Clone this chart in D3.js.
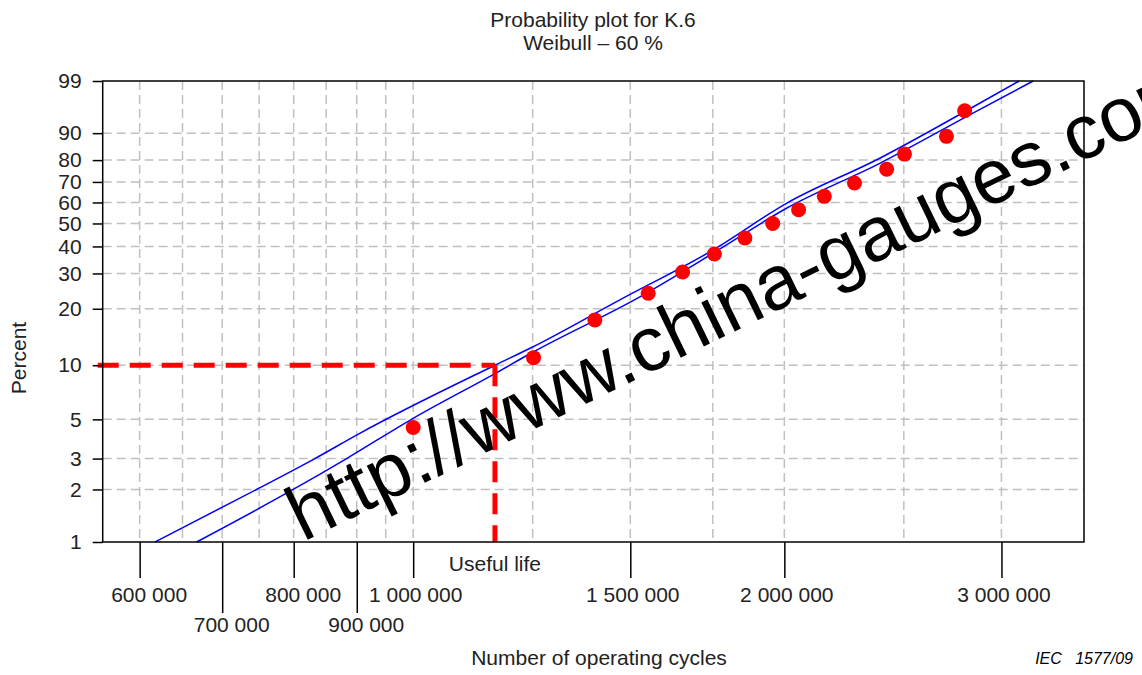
<!DOCTYPE html>
<html>
<head>
<meta charset="utf-8">
<script src="https://cdn.jsdelivr.net/npm/d3@7"></script>
<style>
  body { margin: 0; background: #fff; }
  svg { font-family: Arial, "Liberation Sans", sans-serif; }
</style>
</head>
<body>
<svg id="chart"></svg>
<script>
// tick values / labels
const percentTicks = [1, 2, 3, 5, 10, 20, 30, 40, 50, 60, 70, 80, 90, 99];
const xTicksShort = [600000, 800000, 1000000, 1500000, 2000000, 3000000];
const xTicksLong = [700000, 900000];
const xGridValues = [600000, 650000, 700000, 750000, 800000, 850000, 900000, 950000, 1000000,
                     1250000, 1500000, 1750000, 2000000, 2500000, 3000000];

// observed failures (operating cycles, percent)
const failCycles = [1000000, 1252000, 1404000, 1551000, 1654000, 1755000, 1858000, 1957000,
                    2054000, 2155000, 2280000, 2421000, 2503000, 2707000, 2801000];
const failPercent = [4.5, 11.0, 17.5, 24.0, 30.5, 37.0, 43.5, 50.0, 56.5, 63.0, 69.5, 76.0, 82.5, 89.0, 95.5];

// the two blue lines
const upperCycles = [617400, 746400, 832300, 905000, 1165000, 1251000, 1471000, 1751000, 2008000, 2390000, 2847000, 3101000];
const upperPercent = [1.0, 2.0, 3.0, 4.17, 10.0, 12.6, 22.2, 38.6, 59.6, 80.8, 96.2, 99.0];
const lowerCycles = [667300, 799300, 883100, 1000000, 1165000, 1251000, 1527000, 1751000, 2008000, 2390000, 2847000, 3183000];
const lowerPercent = [1.0, 2.0, 3.0, 5.07, 9.0, 11.8, 23.0, 37.3, 57.2, 78.6, 95.1, 99.0];

// useful life marker (B10)
const usefulLife = 1165000;
const usefulPercent = 10;

const W = 1142, H = 675;
const margin = {top: 81, right: 58, bottom: 133, left: 102.7};
const width = W - margin.left - margin.right;
const height = H - margin.top - margin.bottom;

const svg = d3.select('#chart').attr('width', W).attr('height', H);

// weibull probability transform
const weib = p => Math.log(-Math.log(1 - p / 100));

const x = d3.scaleLog().domain([560000, 3500000]).range([0, width]);
const yLin = d3.scaleLinear().domain([weib(1), weib(99)]).range([height, 0]);
const y = p => yLin(weib(p));

const fmt = d3.formatLocale({decimal: '.', thousands: ' ', grouping: [3], currency: ['', '']}).format(',');

const chart = svg.append('g')
    .attr('transform', `translate(${margin.left},${margin.top})`);

// grid
chart.append('g').selectAll('line')
    .data(xGridValues)
    .join('line')
    .attr('x1', d => x(d)).attr('x2', d => x(d))
    .attr('y1', 0).attr('y2', height)
    .attr('stroke', '#c0c0c0').attr('stroke-width', 1.5).attr('stroke-dasharray', '9,5');

chart.append('g').selectAll('line')
    .data(percentTicks.filter(p => p > 1 && p < 99))
    .join('line')
    .attr('x1', 0).attr('x2', width)
    .attr('y1', d => y(d)).attr('y2', d => y(d))
    .attr('stroke', '#c0c0c0').attr('stroke-width', 1.5).attr('stroke-dasharray', '9,5');

// blue lines
const line = d3.line().x(d => x(d[0])).y(d => y(d[1])).curve(d3.curveMonotoneX);
chart.append('path')
    .datum(d3.zip(upperCycles, upperPercent))
    .attr('d', line).attr('fill', 'none').attr('stroke', '#0000ff').attr('stroke-width', 1.5);
chart.append('path')
    .datum(d3.zip(lowerCycles, lowerPercent))
    .attr('d', line).attr('fill', 'none').attr('stroke', '#0000ff').attr('stroke-width', 1.5);

// useful life dashed lines
chart.append('line')
    .attr('x1', -5).attr('x2', x(usefulLife))
    .attr('y1', y(usefulPercent)).attr('y2', y(usefulPercent))
    .attr('stroke', '#ff0000').attr('stroke-width', 5).attr('stroke-dasharray', '21,11');
chart.append('line')
    .attr('x1', x(usefulLife)).attr('x2', x(usefulLife))
    .attr('y1', y(usefulPercent)).attr('y2', height)
    .attr('stroke', '#ff0000').attr('stroke-width', 5).attr('stroke-dasharray', '21,11');

// points
chart.append('g').selectAll('circle')
    .data(d3.zip(failCycles, failPercent))
    .join('circle')
    .attr('cx', d => x(d[0]))
    .attr('cy', d => y(d[1]))
    .attr('r', 7.5)
    .attr('fill', '#ff0000');

// frame
chart.append('rect')
    .attr('width', width).attr('height', height)
    .attr('fill', 'none').attr('stroke', '#000').attr('stroke-width', 1.5);

// y axis
const yAxisG = chart.append('g')
    .call(d3.axisLeft(yLin)
      .tickValues(percentTicks.map(weib))
      .tickFormat((d, i) => percentTicks[i])
      .tickSize(10)
      .tickPadding(11));
yAxisG.select('.domain').remove();
yAxisG.selectAll('line').attr('stroke-width', 1.5);
yAxisG.selectAll('text').attr('font-size', 21).attr('fill', '#222').attr('font-family', null);

// x axis, two tick lengths
const xShort = chart.append('g')
    .attr('transform', `translate(0,${height})`)
    .call(d3.axisBottom(x).tickValues(xTicksShort).tickFormat(fmt).tickSize(36));
const xLong = chart.append('g')
    .attr('transform', `translate(0,${height})`)
    .call(d3.axisBottom(x).tickValues(xTicksLong).tickFormat(fmt).tickSize(71));
[xShort, xLong].forEach(g => {
  g.select('.domain').remove();
  g.selectAll('line').attr('stroke-width', 1.5);
  g.selectAll('text')
    .attr('font-size', 21).attr('fill', '#222').attr('font-family', null)
    .attr('dy', null)
    .attr('dx', d => d < 1000000 ? 9 : 2);
});
xShort.selectAll('text').attr('y', 60);
xLong.selectAll('text').attr('y', 90);

// labels
svg.append('text')
    .attr('x', margin.left + x(usefulLife))
    .attr('y', 571)
    .attr('text-anchor', 'middle')
    .attr('font-size', 21).attr('fill', '#222')
    .text('Useful life');

svg.append('text')
    .attr('x', 593).attr('y', 27)
    .attr('text-anchor', 'middle')
    .attr('font-size', 21).attr('fill', '#222')
    .text('Probability plot for K.6');
svg.append('text')
    .attr('x', 593).attr('y', 49.5)
    .attr('text-anchor', 'middle')
    .attr('font-size', 21).attr('fill', '#222')
    .text('Weibull – 60 %');

svg.append('text')
    .attr('transform', 'translate(26,358) rotate(-90)')
    .attr('text-anchor', 'middle')
    .attr('font-size', 21).attr('fill', '#222')
    .text('Percent');

svg.append('text')
    .attr('x', 599).attr('y', 665)
    .attr('text-anchor', 'middle')
    .attr('font-size', 21).attr('fill', '#222')
    .text('Number of operating cycles');

svg.append('text')
    .attr('x', 1133).attr('y', 664)
    .attr('text-anchor', 'end')
    .attr('font-size', 16).attr('font-style', 'italic')
    .style('white-space', 'pre')
    .text('IEC   1577/09');

// watermark across the plot
svg.append('text')
    .attr('transform', 'translate(303,542) rotate(-26)')
    .attr('font-size', 77).attr('fill', '#000')
    .text('http://www.china-gauges.com');
</script>
</body>
</html>
